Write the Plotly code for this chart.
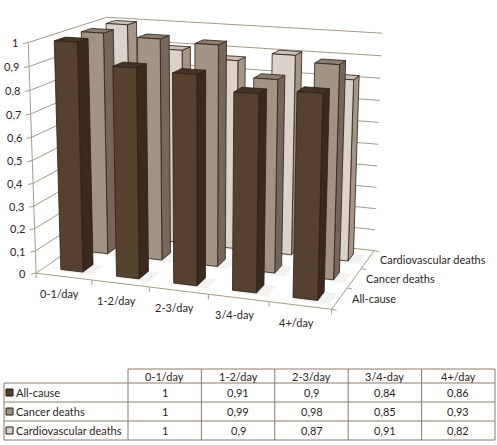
import numpy as np
import plotly.graph_objects as go

categories = ['0-1/day', '1-2/day', '2-3/day', '3/4-day', '4+/day']
series = ['All-cause', 'Cancer deaths', 'Cardiovascular deaths']
all_cause = [1, 0.91, 0.9, 0.84, 0.86]
cancer_deaths = [1, 0.99, 0.98, 0.85, 0.93]
cardio_deaths = [1, 0.9, 0.87, 0.91, 0.82]
value_ticks = [0, 0.1, 0.2, 0.3, 0.4, 0.5, 0.6, 0.7, 0.8, 0.9, 1]

values = [all_cause, cancer_deaths, cardio_deaths]
# front, side, top colours per series
colors = [
    ('#56412f', '#3b2a1c', '#453324'),
    ('#a39383', '#76665a', '#8c7c6d'),
    ('#dbd2c9', '#a49585', '#c9beb3'),
]
edge = '#2b2017'
grid = '#a8998a'
font = dict(family='Lato, Open Sans, sans-serif', size=11, color='#2d241c')

W, H = 497, 445


# fit a perspective camera to the corners of the plot box (cat, depth, value)
def fit_camera():
    pts = [((0, 0, 0), (36, 273)), ((0, 0, 1), (28, 43)), ((1, 0, 0), (332, 309)),
           ((1, 1, 0), (374, 251)), ((1, 1, 1), (382, 33)), ((0, 1, 1), (107, 17))]
    rows = []
    for (X, Y, Z), (u, v) in pts:
        u, v = u / 100, v / 100
        rows.append([X, Y, Z, 1, 0, 0, 0, 0, -u * X, -u * Y, -u * Z, -u])
        rows.append([0, 0, 0, 0, X, Y, Z, 1, -v * X, -v * Y, -v * Z, -v])
    _, _, vt = np.linalg.svd(np.array(rows, dtype=float))
    return vt[-1].reshape(3, 4)


P = fit_camera()


def proj(x, d, z):
    p = P @ np.array([x, d, z, 1.0])
    return p[0] / p[2] * 100, p[1] / p[2] * 100


def poly(fig, corners, fill, line=edge, width=0.8):
    xy = [proj(*c) for c in corners]
    xs = [p[0] for p in xy] + [xy[0][0]]
    ys = [p[1] for p in xy] + [xy[0][1]]
    fig.add_trace(go.Scatter(x=xs, y=ys, mode='lines', fill='toself', fillcolor=fill,
                             line=dict(color=line, width=width), hoverinfo='skip'))


def seg(fig, a, b, color=grid, width=1):
    pa, pb = proj(*a), proj(*b)
    fig.add_trace(go.Scatter(x=[pa[0], pb[0]], y=[pa[1], pb[1]], mode='lines',
                             line=dict(color=color, width=width), hoverinfo='skip'))


fig = go.Figure()
annotations = []
shapes = []

# walls
for t in value_ticks:
    seg(fig, (0, 0, t), (0, 1, t))
    seg(fig, (0, 1, t), (1, 1, t))
seg(fig, (0, 0, 0), (0, 0, 1))
seg(fig, (0, 0, 0), (1, 0, 0))
seg(fig, (1, 0, 0), (1, 1, 0))

# ticks and labels
for t in value_ticks:
    px, py = proj(0, 0, t)
    fig.add_trace(go.Scatter(x=[px, px - 5], y=[py, py + 1], mode='lines',
                             line=dict(color=grid, width=1), hoverinfo='skip'))
    annotations.append(dict(x=px - 8, y=py, text=('%g' % t).replace('.', ','), showarrow=False,
                            xanchor='right', yanchor='middle', font=font))
n = len(categories)
for i in range(n + 1):
    px, py = proj(i / n, 0, 0)
    fig.add_trace(go.Scatter(x=[px, px], y=[py, py + 5], mode='lines',
                             line=dict(color=grid, width=1), hoverinfo='skip'))
for i, c in enumerate(categories):
    px, py = proj((i + 0.5) / n, 0, 0)
    annotations.append(dict(x=px - 4, y=py + 17, text=c, showarrow=False,
                            xanchor='center', yanchor='middle', font=font))
m = len(series)
for j in range(m + 1):
    px, py = proj(1, j / m, 0)
    fig.add_trace(go.Scatter(x=[px, px + 5], y=[py, py + 1], mode='lines',
                             line=dict(color=grid, width=1), hoverinfo='skip'))
for j, s in enumerate(series):
    px, py = proj(1, (j + 0.5) / m, 0)
    annotations.append(dict(x=px + 10, y=py, text=s, showarrow=False,
                            xanchor='left', yanchor='middle', font=font))

# bars, back row first
for j in reversed(range(m)):
    front, side, top = colors[j]
    d0, d1 = (j + 0.3) / m, (j + 0.7) / m
    for i in range(n):
        z = values[j][i]
        x0, x1 = (i + 0.3) / n, (i + 0.7) / n
        poly(fig, [(x0, d0 - 0.03, 0), (x1 + 0.04, d0 - 0.03, 0), (x1 + 0.04, d1, 0), (x0, d1, 0)],
             'rgba(90,70,50,0.07)', line='rgba(0,0,0,0)', width=0)
        poly(fig, [(x1, d0, 0), (x1, d1, 0), (x1, d1, z), (x1, d0, z)], side)
        poly(fig, [(x0, d0, z), (x1, d0, z), (x1, d1, z), (x0, d1, z)], top)
        poly(fig, [(x0, d0, 0), (x1, d0, 0), (x1, d0, z), (x0, d0, z)], front)

# data table
tb = '#8a7b6c'
col0, col_end = 128, 495
row_y = [369, 383, 402, 421, 440]
col_x = list(np.linspace(col0, col_end, n + 1))
shapes.append(dict(type='line', x0=col0, x1=col_end, y0=row_y[0], y1=row_y[0], line=dict(color=tb, width=1)))
for y in row_y[1:]:
    shapes.append(dict(type='line', x0=4, x1=col_end, y0=y, y1=y, line=dict(color=tb, width=1)))
for x in col_x:
    shapes.append(dict(type='line', x0=x, x1=x, y0=row_y[0], y1=row_y[-1], line=dict(color=tb, width=1)))
shapes.append(dict(type='line', x0=4, x1=4, y0=row_y[1], y1=row_y[-1], line=dict(color=tb, width=1)))
for i, c in enumerate(categories):
    annotations.append(dict(x=(col_x[i] + col_x[i + 1]) / 2, y=(row_y[0] + row_y[1]) / 2, text=c,
                            showarrow=False, xanchor='center', yanchor='middle', font=font))
for j, s in enumerate(series):
    yc = (row_y[j + 1] + row_y[j + 2]) / 2
    shapes.append(dict(type='rect', x0=6, x1=13, y0=yc - 3.5, y1=yc + 3.5, fillcolor=colors[j][0],
                       line=dict(color='#1e1610', width=1)))
    annotations.append(dict(x=14, y=yc, text=s, showarrow=False, xanchor='left', yanchor='middle', font=font))
    for i in range(n):
        annotations.append(dict(x=(col_x[i] + col_x[i + 1]) / 2, y=yc, text=('%g' % values[j][i]).replace('.', ','),
                                showarrow=False, xanchor='center', yanchor='middle', font=font))

fig.update_layout(
    width=W, height=H, margin=dict(l=0, r=0, t=0, b=0),
    paper_bgcolor='white', plot_bgcolor='white', showlegend=False,
    xaxis=dict(range=[0, W], visible=False, fixedrange=True),
    yaxis=dict(range=[H, 0], visible=False, fixedrange=True),
    annotations=annotations, shapes=shapes,
)
fig.write_html("out.html", config={'displayModeBar': False},
               post_script="document.body.style.margin='0';document.body.style.overflow='hidden';")
